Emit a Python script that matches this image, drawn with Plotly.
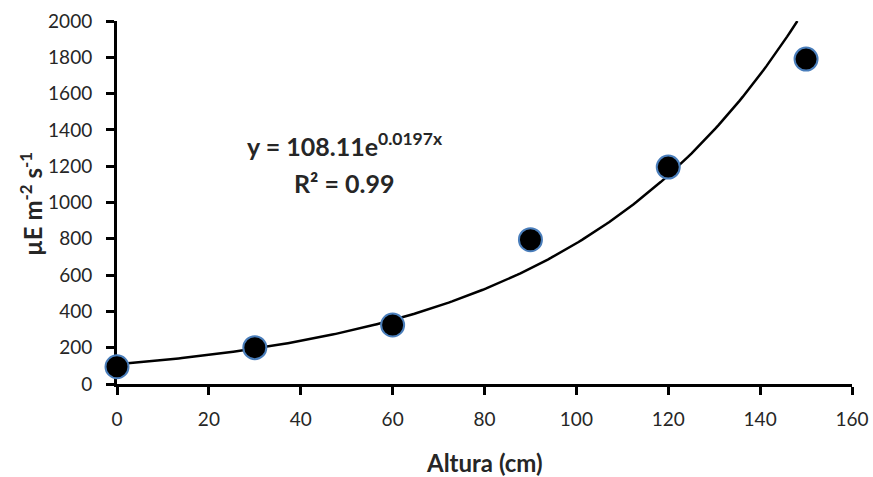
import numpy as np
import plotly.graph_objects as go

altura = [0, 30, 60, 90, 120, 150]
irradiance = [95, 200, 325, 795, 1195, 1790]
fit_a = 108.11
fit_b = 0.0197
r2 = 0.99
x_ticks = [0, 20, 40, 60, 80, 100, 120, 140, 160]
y_ticks = [0, 200, 400, 600, 800, 1000, 1200, 1400, 1600, 1800, 2000]

xt = np.linspace(0, np.log(2000 / fit_a) / fit_b, 200)
yt = fit_a * np.exp(fit_b * xt)

W, H = 873, 477
L, R, T, B = 117, 21, 21, 93
pw, ph = W - L - R, H - T - B


def px2paper(px, py):
    return (px - L) / pw, 1 - (py - T) / ph


fig = go.Figure()
fig.add_trace(go.Scatter(x=xt, y=yt, mode="lines", line=dict(color="black", width=2.5),
                         hoverinfo="skip", showlegend=False))
fig.add_trace(go.Scatter(x=altura, y=irradiance, mode="markers", cliponaxis=False,
                         marker=dict(color="black", size=23, line=dict(color="#4A7EBB", width=2)),
                         showlegend=False))

font = "Lato, 'Open Sans', sans-serif"
tc = "#262626"
axis_common = dict(showline=True, linecolor="black", linewidth=3, ticks="outside", ticklen=8,
                   tickwidth=3, tickcolor="black", showgrid=False, zeroline=False,
                   layer="below traces", automargin=False, tickfont=dict(size=19, color=tc))

ann = []
ex, ey = px2paper(345, 144)
ann.append(dict(x=ex, y=ey, xref="paper", yref="paper", showarrow=False, xanchor="center", yanchor="middle",
                text=f"<b>y = {fit_a}e<sup>{fit_b}x</sup></b>", font=dict(size=25, color=tc)))
rx, ry = px2paper(344, 183)
ann.append(dict(x=rx, y=ry, xref="paper", yref="paper", showarrow=False, xanchor="center", yanchor="middle",
                text=f"<b>R² = {r2}</b>", font=dict(size=25, color=tc)))
axx, axy = px2paper(484, 462)
ann.append(dict(x=axx, y=axy, xref="paper", yref="paper", showarrow=False, xanchor="center", yanchor="middle",
                text="<b>Altura (cm)</b>", font=dict(size=24, color=tc)))
ayx, ayy = px2paper(31, 204)
ann.append(dict(x=ayx, y=ayy, xref="paper", yref="paper", showarrow=False, xanchor="center", yanchor="middle",
                textangle=-90, text="<b>µE m<sup>-2</sup> s<sup>-1</sup></b>", font=dict(size=24, color=tc)))

fig.update_layout(
    width=W, height=H,
    margin=dict(l=L, r=R, t=T, b=B),
    plot_bgcolor="white", paper_bgcolor="white",
    font=dict(family=font, color=tc, size=19),
    xaxis=dict(range=[0, 160], tickvals=x_ticks, ticklabelstandoff=8, **axis_common),
    yaxis=dict(range=[0, 2000], tickvals=y_ticks, ticklabelstandoff=10, **axis_common),
    annotations=ann,
)
fig.write_html("out.html", config={"displayModeBar": False},
               post_script="document.body.style.margin='0';document.body.style.overflow='hidden';")
